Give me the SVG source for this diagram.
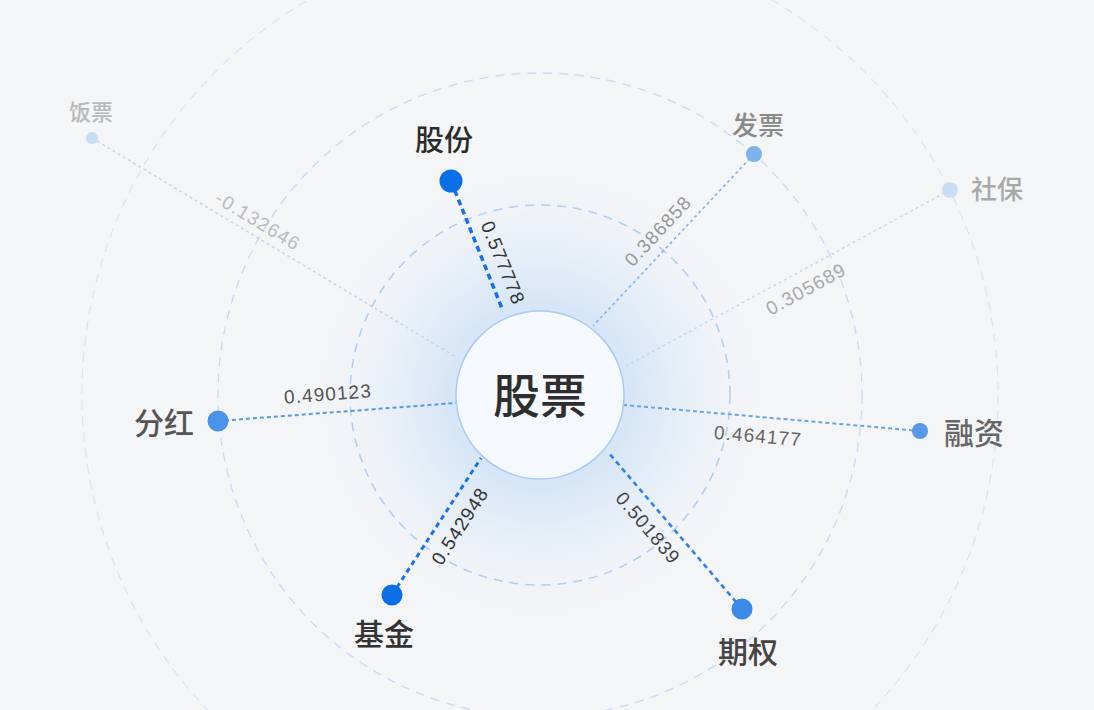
<svg xmlns="http://www.w3.org/2000/svg" width="1094" height="710" viewBox="0 0 1094 710">
<defs>
<radialGradient id="glow" cx="540" cy="395" r="235" gradientUnits="userSpaceOnUse">
<stop offset="0" stop-color="#c9ddf5" stop-opacity="1"/>
<stop offset="0.4" stop-color="#d6e5f7" stop-opacity="0.95"/>
<stop offset="0.7" stop-color="#e5eef8" stop-opacity="0.6"/>
<stop offset="1" stop-color="#f4f5f7" stop-opacity="0"/>
</radialGradient>
<style>
.ring{fill:none;stroke-dasharray:9 7}
.num{font-family:"Liberation Sans",Arial,sans-serif;font-size:19px;letter-spacing:1.1px;text-anchor:middle;dominant-baseline:central}
.lbl{font-family:"Noto Sans CJK SC","Noto Sans",sans-serif;text-anchor:middle;font-weight:500}
.edge{fill:none;stroke-linecap:butt}
</style>
</defs>
<rect width="1094" height="710" fill="#f4f5f7"/>
<circle cx="540" cy="395" r="235" fill="url(#glow)"/>
<g id="rings">
<circle class="ring" cx="540" cy="395" r="190" stroke="#b2cdf0" stroke-width="1.5"/>
<circle class="ring" cx="540" cy="395" r="322" stroke="#c6daf3" stroke-width="1.3"/>
<circle class="ring" cx="540" cy="395" r="458" stroke="#d6e3f3" stroke-width="1.2"/>
</g>
<g id="connectors">
<line class="edge" x1="92" y1="138" x2="456" y2="357" stroke="#c6d4e6" stroke-width="1.5" stroke-dasharray="3 3"/>
<line class="edge" x1="950" y1="190" x2="626" y2="366" stroke="#c6d9f0" stroke-width="1.5" stroke-dasharray="3 3"/>
<line class="edge" x1="754" y1="154" x2="593" y2="326" stroke="#86b5ec" stroke-width="1.7" stroke-dasharray="3 3"/>
<line class="edge" x1="920" y1="431" x2="624" y2="405" stroke="#6aa3e8" stroke-width="2" stroke-dasharray="4 3"/>
<line class="edge" x1="218" y1="421" x2="456" y2="403" stroke="#5898e6" stroke-width="2" stroke-dasharray="4 3"/>
<line class="edge" x1="742" y1="609" x2="608" y2="452" stroke="#3283e6" stroke-width="2.6" stroke-dasharray="5 4"/>
<line class="edge" x1="392" y1="595" x2="481" y2="458" stroke="#1a74e6" stroke-width="3" stroke-dasharray="5 4"/>
<line class="edge" x1="451" y1="181" x2="503" y2="311" stroke="#1a70e4" stroke-width="3.5" stroke-dasharray="6 4"/>
<text class="num" fill="#333333" transform="translate(503,263) rotate(68)">0.577778</text>
<text class="num" fill="#333333" transform="translate(460,526) rotate(-57)">0.542948</text>
<text class="num" fill="#444444" transform="translate(648,528) rotate(49.5)">0.501839</text>
<text class="num" fill="#555555" transform="translate(328,394) rotate(-4.3)">0.490123</text>
<text class="num" fill="#666666" transform="translate(758,436) rotate(5)">0.464177</text>
<text class="num" fill="#999999" transform="translate(658,231) rotate(-47)">0.386858</text>
<text class="num" fill="#aaaaaa" transform="translate(806,289) rotate(-28.5)">0.305689</text>
<text class="num" fill="#bbbbbb" transform="translate(258,221) rotate(31.2)">-0.132646</text>
</g>
<g id="center">
<circle cx="540" cy="395" r="84" fill="#f5f9fe" stroke="#a9cbf2" stroke-width="1.5"/>
<text class="lbl" x="540" y="413" font-size="47" fill="#2e2e2e">股票</text>
</g>
<g id="node-gufen">
<circle cx="451" cy="181" r="11.5" fill="#0a6fe6"/>
<text class="lbl" x="444" y="151" font-size="29" fill="#2b2b2b">股份</text>
</g>
<g id="node-fapiao">
<circle cx="754" cy="154" r="8" fill="#7fb1ea"/>
<text class="lbl" x="758" y="135" font-size="26" fill="#8a8a8a">发票</text>
</g>
<g id="node-shebao">
<circle cx="950" cy="190" r="8" fill="#c9ddf5"/>
<text class="lbl" x="971" y="199" font-size="26" fill="#a9a9a9" style="text-anchor:start">社保</text>
</g>
<g id="node-fanpiao">
<circle cx="92" cy="138" r="6" fill="#c4dcf4"/>
<text class="lbl" x="91" y="120" font-size="22" fill="#b9b9b9">饭票</text>
</g>
<g id="node-fenhong">
<circle cx="218" cy="421" r="10.5" fill="#4b92ea"/>
<text class="lbl" x="164" y="434" font-size="30" fill="#555555">分红</text>
</g>
<g id="node-rongzi">
<circle cx="920" cy="431" r="8" fill="#5797e8"/>
<text class="lbl" x="974" y="444" font-size="30" fill="#666666">融资</text>
</g>
<g id="node-jijin">
<circle cx="392" cy="595" r="10.5" fill="#0a6fe6"/>
<text class="lbl" x="384" y="645" font-size="30" fill="#333333">基金</text>
</g>
<g id="node-qiquan">
<circle cx="742" cy="609" r="10.5" fill="#3a8ae8"/>
<text class="lbl" x="748" y="663" font-size="30" fill="#444444">期权</text>
</g>
</svg>
